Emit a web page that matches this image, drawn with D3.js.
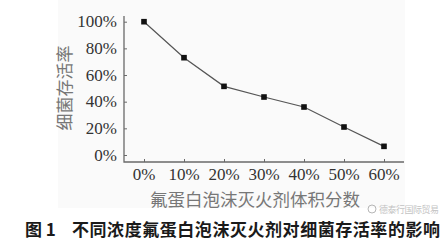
<!DOCTYPE html>
<html>
<head>
<meta charset="utf-8">
<script src="https://cdn.jsdelivr.net/npm/d3@7"></script>
<style>
  html, body { margin: 0; padding: 0; background: #fff; }
  svg { display: block; }
  .num { font-family: "Liberation Serif", "DejaVu Serif", serif; }
  .cjk { font-family: "Noto Sans CJK SC", sans-serif; }
</style>
</head>
<body>
<svg id="chart"></svg>
<script>
  // values
  var categories = ["0%", "10%", "20%", "30%", "40%", "50%", "60%"];
  var survival = [100, 73, 51.5, 43.5, 36, 21, 6.5];
  var yTicks = [0, 20, 40, 60, 80, 100];

  var width = 443, height = 245;
  var svg = d3.select("#chart").attr("width", width).attr("height", height);

  // light panel behind the figure
  svg.append("rect")
    .attr("x", 58).attr("y", 0)
    .attr("width", 347).attr("height", 208)
    .attr("fill", "#fafafa");

  var plot = { left: 124, right: 404, top: 16, bottom: 162 };

  var x = d3.scalePoint()
    .domain(categories)
    .range([plot.left, plot.right])
    .padding(0.5);

  var y = d3.scaleLinear()
    .domain([0, 100])
    .range([155, 21.7]);

  var axisColor = "#6a6a6a";

  // y axis: ticks point inward
  var yAxis = svg.append("g")
    .attr("transform", "translate(" + plot.left + ",0)")
    .call(d3.axisRight(y).tickValues(yTicks).tickSize(3).tickFormat(""));
  yAxis.select(".domain").remove();
  yAxis.selectAll(".tick line").attr("stroke", axisColor);

  svg.append("g").selectAll("text")
    .data(yTicks)
    .enter().append("text")
    .attr("class", "num")
    .attr("x", plot.left - 7)
    .attr("y", function (d) { return y(d); })
    .attr("dy", "0.34em")
    .attr("text-anchor", "end")
    .attr("font-size", 17)
    .attr("fill", "#333")
    .text(function (d) { return d + "%"; });

  // x axis: ticks point up
  var xAxis = svg.append("g")
    .attr("transform", "translate(0," + plot.bottom + ")")
    .call(d3.axisTop(x).tickSize(3).tickFormat(""));
  xAxis.select(".domain").remove();
  xAxis.selectAll(".tick line").attr("stroke", axisColor);

  svg.append("g").selectAll("text")
    .data(categories)
    .enter().append("text")
    .attr("class", "num")
    .attr("x", function (d) { return x(d); })
    .attr("y", 180)
    .attr("text-anchor", "middle")
    .attr("font-size", 17)
    .attr("fill", "#333")
    .text(function (d) { return d; });

  // axis lines
  svg.append("path")
    .attr("d", "M" + plot.left + "," + plot.top + "V" + plot.bottom + "H" + plot.right)
    .attr("fill", "none")
    .attr("stroke", axisColor)
    .attr("stroke-width", 1.3);

  // series line + square markers
  var pts = categories.map(function (c, i) { return [x(c), y(survival[i])]; });

  svg.append("path")
    .datum(pts)
    .attr("d", d3.line())
    .attr("fill", "none")
    .attr("stroke", "#555")
    .attr("stroke-width", 1.2);

  svg.append("g").selectAll("rect")
    .data(pts)
    .enter().append("rect")
    .attr("x", function (d) { return d[0] - 2.8; })
    .attr("y", function (d) { return d[1] - 2.8; })
    .attr("width", 5.6)
    .attr("height", 5.6)
    .attr("fill", "#111");

  // axis titles
  svg.append("text")
    .attr("class", "cjk")
    .attr("transform", "translate(71,88) rotate(-90)")
    .attr("text-anchor", "middle")
    .attr("font-size", 17)
    .attr("fill", "#777")
    .text("细菌存活率");

  svg.append("text")
    .attr("class", "cjk")
    .attr("x", 255)
    .attr("y", 206)
    .attr("text-anchor", "middle")
    .attr("font-size", 17.5)
    .attr("fill", "#777")
    .text("氟蛋白泡沫灭火剂体积分数");

  // caption
  svg.append("text")
    .attr("class", "cjk")
    .attr("x", 25)
    .attr("y", 236)
    .attr("font-size", 17)
    .attr("font-weight", "bold")
    .attr("fill", "#1a1a1a")
    .text("图 1");

  svg.append("text")
    .attr("class", "cjk")
    .attr("x", 72)
    .attr("y", 236)
    .attr("font-size", 17)
    .attr("font-weight", "bold")
    .attr("fill", "#1a1a1a")
    .attr("textLength", 368)
    .text("不同浓度氟蛋白泡沫灭火剂对细菌存活率的影响");

  // watermark, kept clear of the caption and the axis title
  var wm = svg.append("g").attr("opacity", 0.7);
  wm.append("circle")
    .attr("cx", 372).attr("cy", 209).attr("r", 4)
    .attr("fill", "none").attr("stroke", "#999").attr("stroke-width", 1);
  wm.append("text")
    .attr("class", "cjk")
    .attr("x", 379)
    .attr("y", 212.5)
    .attr("font-size", 9)
    .attr("fill", "#aaa")
    .attr("textLength", 60)
    .text("德泰行国际贸易");
</script>
</body>
</html>
